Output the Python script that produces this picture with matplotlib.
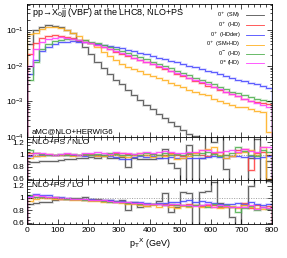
import numpy as np
import matplotlib
matplotlib.use("Agg")
import matplotlib.pyplot as plt
from matplotlib.ticker import MultipleLocator, LogLocator, FuncFormatter, NullFormatter

# bin edges in GeV (20 GeV bins)
edges = np.arange(0, 820, 20)

labels = ["0$^+$ (SM)", "0$^+$ (HD)", "0$^+$ (HDder)", "0$^+$ (SM+HD)", "0$^-$ (HD)", "0$^{\\pm}$ (HD)"]
colors = ["#505050", "#ff4040", "#4848ff", "#ffb020", "#50b050", "#ff40ff"]

# main panel: normalised distributions
sm = [0.040, 0.100, 0.125, 0.138, 0.135, 0.122, 0.105, 0.082, 0.050, 0.034,
      0.021, 0.0125, 0.0085, 0.0060, 0.0040, 0.0030, 0.0021, 0.0015, 0.0011, 0.0008,
      0.0006, 0.00045, 0.00035, 0.00027, 0.0002, 0.00016, 0.00012, 0.00011, 0.00008, 0.00007,
      0.00006, 0.00005, 0.00004, 0.00004, 0.00003, 0.00003, 0.00002, 0.00002, 0.00002, 0.00001]
hd = [0.022, 0.045, 0.062, 0.070, 0.072, 0.070, 0.066, 0.060, 0.054, 0.048,
      0.043, 0.038, 0.033, 0.029, 0.025, 0.022, 0.019, 0.0165, 0.0145, 0.0125,
      0.011, 0.0095, 0.0082, 0.0071, 0.0061, 0.0053, 0.0045, 0.0038, 0.0033, 0.0028,
      0.0025, 0.0021, 0.0018, 0.0016, 0.0014, 0.00115, 0.0010, 0.00095, 0.0009, 0.00085]
hdder = [0.006, 0.015, 0.026, 0.035, 0.042, 0.046, 0.048, 0.049, 0.048, 0.046,
         0.044, 0.041, 0.038, 0.036, 0.034, 0.031, 0.028, 0.026, 0.0235, 0.021,
         0.019, 0.0172, 0.0155, 0.014, 0.0125, 0.0112, 0.010, 0.0091, 0.0082, 0.0074,
         0.0066, 0.0059, 0.0052, 0.0046, 0.0041, 0.0037, 0.0033, 0.0030, 0.0027, 0.0024]
smhd = [0.080, 0.085, 0.110, 0.122, 0.125, 0.115, 0.100, 0.085, 0.070, 0.055,
        0.043, 0.033, 0.025, 0.019, 0.0145, 0.0115, 0.0095, 0.0082, 0.0070, 0.0060,
        0.0051, 0.0045, 0.0039, 0.0034, 0.0029, 0.0025, 0.0021, 0.0019, 0.0016, 0.0015,
        0.0012, 0.0010, 0.0009, 0.0008, 0.0007, 0.00068, 0.0006, 0.00055, 0.0005, 0.00014]
minus = [0.004, 0.013, 0.030, 0.042, 0.050, 0.055, 0.057, 0.057, 0.055, 0.052,
         0.048, 0.043, 0.039, 0.034, 0.030, 0.027, 0.023, 0.020, 0.0175, 0.0152,
         0.0132, 0.0115, 0.0099, 0.0086, 0.0074, 0.0064, 0.0055, 0.0047, 0.0040, 0.0035,
         0.0030, 0.0026, 0.0022, 0.0019, 0.0017, 0.0015, 0.0013, 0.0012, 0.0011, 0.0010]
pm = [0.010, 0.030, 0.048, 0.057, 0.062, 0.063, 0.062, 0.058, 0.053, 0.048,
      0.043, 0.038, 0.034, 0.030, 0.026, 0.023, 0.020, 0.0172, 0.0150, 0.0130,
      0.0113, 0.0098, 0.0085, 0.0074, 0.0064, 0.0055, 0.0047, 0.0041, 0.0035, 0.0030,
      0.0026, 0.0022, 0.0019, 0.0016, 0.0014, 0.0012, 0.00105, 0.0009, 0.0008, 0.0007]

# NLO+PS / NLO
r1_sm = [0.88, 0.88, 0.89, 0.90, 0.90, 0.91, 0.92, 0.93, 0.94, 0.95,
         0.96, 0.95, 0.97, 0.95, 0.94, 0.96, 0.80, 0.95, 0.93, 0.92,
         0.93, 0.95, 1.10, 0.86, 0.77, 0.50, 1.16, 0.50, 0.94, 1.40,
         1.20, 1.40, 0.76, 0.50, 0.50, 0.50, 0.95, 1.26, 0.50, 0.90]
r1_hd = [1.02, 1.02, 1.01, 1.01, 1.00, 1.00, 1.01, 1.00, 0.99, 1.00,
         1.01, 1.00, 1.00, 1.01, 1.02, 1.03, 1.01, 1.00, 0.99, 1.00,
         1.01, 0.99, 1.00, 1.02, 1.00, 0.98, 1.01, 1.03, 1.00, 0.98,
         1.02, 1.05, 1.00, 0.98, 1.08, 1.10, 0.75, 1.02, 1.05, 1.00]
r1_hdder = [0.97, 0.98, 0.99, 1.00, 1.00, 0.99, 1.00, 0.99, 1.00, 0.98,
            0.99, 0.98, 0.99, 0.97, 0.96, 0.92, 0.93, 0.96, 0.97, 0.96,
            0.97, 0.95, 0.94, 0.96, 0.95, 0.94, 0.95, 0.94, 0.95, 0.96,
            0.97, 0.96, 0.95, 0.97, 0.98, 0.96, 0.97, 0.95, 0.96, 0.97]
r1_smhd = [0.95, 0.97, 0.98, 0.99, 1.00, 1.00, 0.99, 0.98, 1.00, 1.01,
           0.99, 0.97, 0.98, 1.00, 0.99, 0.98, 0.96, 1.00, 1.02, 0.99,
           0.96, 1.00, 0.97, 1.01, 0.93, 0.95, 0.98, 1.03, 1.07, 1.10,
           1.12, 1.00, 0.95, 0.98, 1.02, 1.05, 1.08, 1.00, 1.12, 0.60]
r1_minus = [1.08, 1.02, 1.01, 1.00, 1.00, 1.01, 1.00, 1.01, 1.00, 1.01,
            1.00, 1.01, 1.00, 1.02, 1.01, 1.00, 0.99, 1.01, 1.00, 1.02,
            1.01, 0.99, 1.02, 1.00, 1.01, 0.99, 1.03, 1.00, 1.02, 1.04,
            1.01, 0.98, 1.00, 1.03, 1.12, 1.06, 1.00, 0.98, 1.08, 1.05]
r1_pm = [1.00, 1.02, 1.02, 1.01, 1.00, 1.01, 1.02, 1.01, 1.00, 1.02,
         1.03, 1.04, 1.02, 1.01, 1.05, 1.03, 1.02, 1.01, 1.03, 1.04,
         1.02, 1.05, 1.06, 1.04, 1.02, 1.03, 1.05, 1.04, 1.08, 1.07,
         1.05, 1.04, 1.06, 1.08, 1.05, 1.10, 1.06, 1.04, 1.13, 1.12]

# NLO+PS / LO
r2_sm = [0.90, 0.92, 0.93, 0.94, 0.96, 0.98, 0.99, 1.00, 1.00, 1.01,
         0.99, 0.98, 0.97, 0.96, 0.95, 0.96, 0.80, 0.93, 0.85, 0.87,
         0.90, 0.95, 1.08, 0.78, 0.85, 1.10, 1.08, 0.55, 1.10, 1.12,
         1.25, 0.92, 0.85, 0.70, 0.50, 0.88, 1.20, 1.30, 1.40, 1.28]
r2_hd = [1.00, 1.02, 1.01, 1.00, 1.00, 0.99, 0.99, 0.98, 0.98, 0.97,
         0.97, 0.96, 0.95, 0.95, 0.94, 0.93, 0.92, 0.92, 0.91, 0.91,
         0.90, 0.91, 0.90, 0.89, 0.89, 0.88, 0.90, 0.88, 0.87, 0.89,
         0.88, 0.86, 0.87, 0.85, 0.86, 0.92, 0.84, 0.88, 0.86, 0.87]
r2_hdder = [1.03, 1.06, 1.05, 1.04, 1.02, 1.01, 1.00, 0.99, 0.99, 0.98,
            0.98, 0.97, 0.97, 0.96, 0.95, 0.95, 0.94, 0.93, 0.93, 0.92,
            0.91, 0.92, 0.92, 0.93, 0.94, 0.95, 0.96, 0.94, 0.95, 0.93,
            0.92, 0.91, 0.90, 0.91, 0.92, 0.90, 0.93, 0.91, 0.89, 0.90]
r2_smhd = [0.95, 0.98, 1.00, 1.00, 0.99, 0.99, 0.98, 0.97, 0.96, 0.96,
           0.95, 0.95, 0.94, 0.93, 0.93, 0.92, 0.91, 0.90, 0.88, 0.87,
           0.88, 0.86, 0.88, 0.85, 0.84, 0.87, 0.86, 0.88, 0.85, 0.87,
           0.86, 0.84, 0.85, 0.87, 0.84, 0.88, 0.85, 0.84, 0.83, 0.84]
r2_minus = [1.04, 1.02, 1.02, 1.01, 1.01, 1.00, 0.99, 0.99, 0.98, 0.97,
            0.96, 0.96, 0.95, 0.94, 0.94, 0.93, 0.92, 0.92, 0.91, 0.90,
            0.91, 0.90, 0.89, 0.90, 0.88, 0.89, 0.87, 0.89, 0.88, 0.86,
            0.90, 0.87, 0.88, 0.86, 0.78, 0.84, 0.87, 0.80, 0.85, 0.82]
r2_pm = [1.02, 1.04, 1.03, 1.02, 1.01, 1.00, 1.00, 0.99, 0.98, 0.98,
         0.97, 0.96, 0.96, 0.95, 0.94, 0.94, 0.93, 0.92, 0.92, 0.91,
         0.90, 0.91, 0.89, 0.90, 0.91, 0.88, 0.89, 0.87, 0.88, 0.90,
         0.86, 0.89, 0.87, 0.86, 0.85, 0.86, 0.88, 0.82, 0.85, 0.84]

main = [sm, hd, hdder, smhd, minus, pm]
ratio1 = [r1_sm, r1_hd, r1_hdder, r1_smhd, r1_minus, r1_pm]
ratio2 = [r2_sm, r2_hd, r2_hdder, r2_smhd, r2_minus, r2_pm]

plt.rcParams["font.family"] = "Liberation Sans"
fs = 6

fig = plt.figure(figsize=(2.87, 2.58), dpi=100)
L, W = 27 / 287, 245 / 287
ax0 = fig.add_axes([L, 1 - 137 / 258, W, 133 / 258])
ax1 = fig.add_axes([L, 1 - 180 / 258, W, 43 / 258])
ax2 = fig.add_axes([L, 1 - 224 / 258, W, 44 / 258])


def draw(ax, series, with_label=False):
    for vals, c, lab in zip(series, colors, labels):
        ax.stairs(vals, edges, color=c, lw=1.8, alpha=0.25)
        ax.stairs(vals, edges, color=c, lw=0.6, label=lab if with_label else None)


def style(ax):
    ax.set_xlim(0, 800)
    ax.xaxis.set_major_locator(MultipleLocator(100))
    ax.xaxis.set_minor_locator(MultipleLocator(20))
    ax.tick_params(which="both", direction="in", top=True, right=True,
                   labelsize=fs, width=0.5, pad=2)
    ax.tick_params(which="major", length=3.5)
    ax.tick_params(which="minor", length=1.8)
    for s in ax.spines.values():
        s.set_linewidth(0.6)


draw(ax0, main, with_label=True)
ax0.set_yscale("log")
ax0.set_ylim(1e-4, 0.55)
style(ax0)
ax0.yaxis.set_major_locator(LogLocator(base=10, numticks=10))
ax0.yaxis.set_minor_locator(LogLocator(base=10, subs=np.arange(2, 10), numticks=10))
ax0.yaxis.set_minor_formatter(NullFormatter())
ax0.tick_params(labelbottom=False)
ax0.text(0.02, 0.985, "pp\u2192X$_0$jj (VBF) at the LHC8, NLO+PS", transform=ax0.transAxes,
         fontsize=fs + 0.5, va="top", ha="left")
ax0.text(0.02, 0.015, "aMC@NLO+HERWIG6", transform=ax0.transAxes,
         fontsize=fs - 0.3, va="bottom", ha="left")
ax0.legend(loc="upper right", bbox_to_anchor=(0.985, 0.985), frameon=False, fontsize=4.0,
           markerfirst=False, handlelength=3.4, labelspacing=0.0, handletextpad=0.9,
           borderpad=0.2)

fmt = FuncFormatter(lambda v, p: "1" if abs(v - 1) < 1e-9 else f"{v:.1f}")
for ax, series, txt in [(ax1, ratio1, "NLO+PS / NLO"), (ax2, ratio2, "NLO+PS / LO")]:
    draw(ax, series)
    ax.axhline(1.0, color="#808080", lw=0.5, ls=(0, (1.5, 2)))
    ax.set_ylim(0.58, 1.29)
    style(ax)
    ax.yaxis.set_major_locator(MultipleLocator(0.2))
    ax.yaxis.set_minor_locator(MultipleLocator(0.05))
    ax.yaxis.set_major_formatter(fmt)
    ax.text(0.02, 0.96, txt, transform=ax.transAxes, fontsize=fs, va="top", ha="left")

ax1.tick_params(labelbottom=False)
ax2.set_xlabel("p$_{\\mathrm{T}}$$^{\\mathrm{X}}$ (GeV)", fontsize=fs + 0.5, labelpad=2)

fig.savefig("out.png", dpi=100)
